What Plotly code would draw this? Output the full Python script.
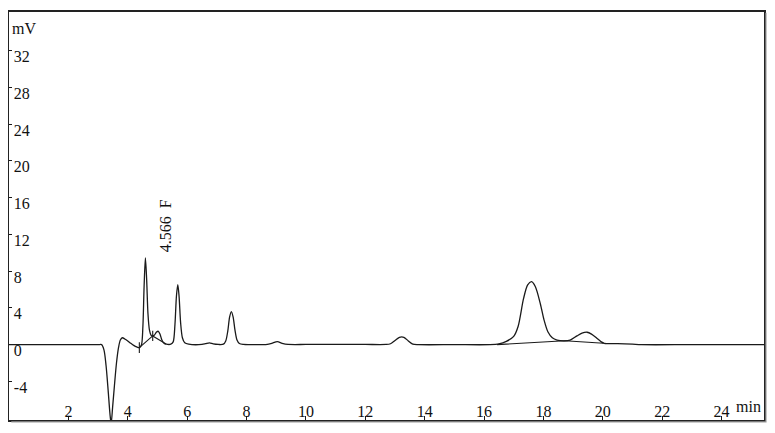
import plotly.graph_objects as go

# Chromatogram signal (time in min, signal in mV)
time_min = [0, 1, 2, 3.0, 3.12, 3.2, 3.27, 3.34, 3.40, 3.44, 3.49, 3.55, 3.62, 3.69, 3.75,
            3.82, 3.9, 4.0, 4.1, 4.2, 4.3, 4.39, 4.46, 4.51, 4.55, 4.594, 4.635, 4.68, 4.73,
            4.79, 4.84, 4.9, 4.97, 5.03, 5.09, 5.15, 5.22, 5.3, 5.45, 5.53, 5.59, 5.64, 5.686,
            5.73, 5.78, 5.84, 5.92, 6.05, 6.5, 6.62, 6.75, 6.88, 7.05, 7.22, 7.3, 7.37, 7.43,
            7.49, 7.55, 7.61, 7.68, 7.76, 7.9, 8.7, 8.85, 9.04, 9.2, 9.4, 10, 11, 12, 12.7,
            12.85, 13.0, 13.15, 13.3, 13.45, 13.6, 13.8, 15, 16.2, 16.5, 16.75, 17.0, 17.15,
            17.33, 17.47, 17.6, 17.73, 17.9, 18.02, 18.15, 18.3, 18.46, 18.7, 18.9, 19.13,
            19.3, 19.47, 19.62, 19.8, 19.95, 20.05, 20.5, 21, 21.3, 23, 25.43]
signal_mv = [0, 0, 0, 0, 0, -0.6, -2.3, -5.0, -7.5, -8.6, -6.8, -4.5, -2.0, -0.3, 0.5,
             0.75, 0.62, 0.4, 0.15, -0.08, -0.25, -0.33, -0.05, 2.0, 6.3, 9.43, 7.2, 3.4, 1.6,
             1.0, 0.95, 1.05, 1.38, 1.45, 1.1, 0.5, 0.15, 0.05, 0.05, 0.3, 2.2, 5.3, 6.53,
             5.2, 2.4, 0.75, 0.2, 0.05, 0.02, 0.1, 0.2, 0.08, 0.02, 0.05, 0.4, 1.5, 3.0,
             3.6, 3.0, 1.6, 0.5, 0.12, 0.03, 0.03, 0.15, 0.33, 0.15, 0.03, 0.02, 0.02, 0.02, 0.02,
             0.1, 0.45, 0.8, 0.8, 0.4, 0.05, 0.0, 0, 0, 0.08, 0.35, 0.9, 2.0,
             5.0, 6.5, 6.85, 6.3, 4.4, 2.7, 1.4, 0.75, 0.5, 0.42, 0.5, 0.95,
             1.25, 1.35, 1.15, 0.7, 0.3, 0.15, 0.12, 0.05, 0, 0, 0]

# Integration baselines
base_t = [4.39, 4.84, 5.29, None, 16.44, 18.72, 20.03]
base_mv = [-0.33, 0.95, 0.08, None, 0.0, 0.42, 0.15]

# Peak start/end markers (time, low, high)
marker_t = [4.39, 4.84]
marker_lo = [-0.9, 0.4]
marker_hi = [0.25, 1.5]

x_ticks = [2, 4, 6, 8, 10, 12, 14, 16, 18, 20, 22, 24]
y_ticks = [-8, -4, 0, 4, 8, 12, 16, 20, 24, 28, 32]

peak_label = "4.566  F"
peak_label_t = 5.26
peak_label_mv = 12.9

FONT = "Liberation Serif"
LINE = "#1a1a1a"

fig = go.Figure()
fig.add_trace(go.Scatter(x=time_min, y=signal_mv, mode="lines",
                         line=dict(color=LINE, width=1.3, shape="spline", smoothing=0.8),
                         hoverinfo="skip", showlegend=False))
fig.add_trace(go.Scatter(x=base_t, y=base_mv, mode="lines",
                         line=dict(color=LINE, width=1.1), connectgaps=False,
                         hoverinfo="skip", showlegend=False))
mx, my = [], []
for t, lo, hi in zip(marker_t, marker_lo, marker_hi):
    mx += [t, t, None]
    my += [lo, hi, None]
fig.add_trace(go.Scatter(x=mx, y=my, mode="lines", line=dict(color=LINE, width=1.1),
                         hoverinfo="skip", showlegend=False))

fig.add_annotation(x=peak_label_t, y=peak_label_mv, text=peak_label, textangle=-90,
                   showarrow=False, xanchor="center", yanchor="middle",
                   font=dict(family=FONT, size=16, color="#111"))
fig.add_annotation(x=0, y=1, xref="paper", yref="paper", text="mV", showarrow=False,
                   xanchor="left", yanchor="top", xshift=1, yshift=-6,
                   font=dict(family=FONT, size=16, color="#111"))
fig.add_annotation(x=1, y=0, xref="paper", yref="paper", text="min", showarrow=False,
                   xanchor="right", yanchor="bottom", xshift=-1, yshift=3,
                   font=dict(family=FONT, size=16, color="#111"))

# light grey shadow along the right and bottom of the frame
fig.add_shape(type="path", xref="paper", yref="paper",
              path="M 1.0026,0.998 L 1.0026,-0.0045 L 0.003,-0.0045",
              line=dict(color="#9a9a9a", width=1.2), layer="above")

fig.update_xaxes(range=[0, 25.43], tickvals=x_ticks, ticktext=[str(v) for v in x_ticks],
                 ticks="inside", ticklen=4, tickcolor=LINE, ticklabelposition="inside",
                 ticklabelstandoff=-4,
                 showgrid=False, zeroline=False, showline=True, linecolor="#222",
                 linewidth=2, mirror=True, tickfont=dict(family=FONT, size=16, color="#111"))
fig.update_yaxes(range=[-8.2, 36.2], tickvals=y_ticks, ticktext=[str(v) for v in y_ticks],
                 ticks="inside", ticklen=3, tickcolor=LINE, ticklabelposition="inside",
                 ticklabelshift=6, ticklabelstandoff=2,
                 showgrid=False, zeroline=False, showline=True, linecolor="#222",
                 linewidth=2, mirror=True, tickfont=dict(family=FONT, size=16, color="#111"))

# The page body has an 8px margin, so the figure is sized to fit inside the window.
fig.update_layout(width=767, height=425, margin=dict(l=1, r=11, t=4, b=13),
                  paper_bgcolor="white", plot_bgcolor="white", showlegend=False)

fig.write_html("out.html")
